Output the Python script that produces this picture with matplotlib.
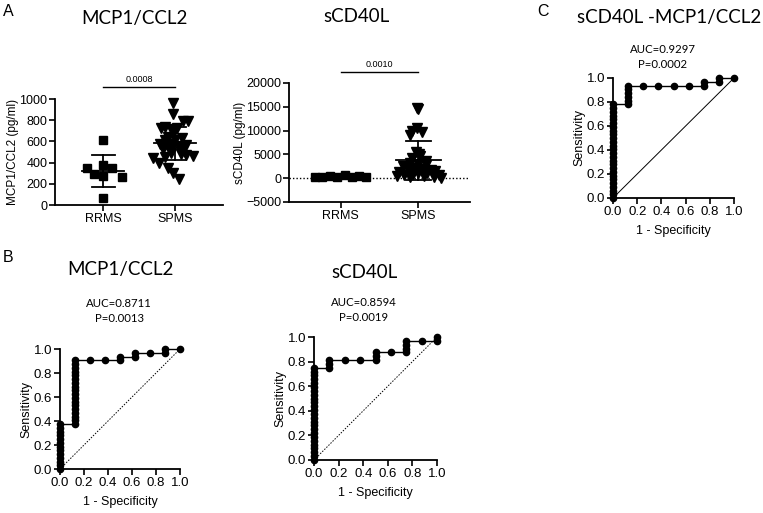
import numpy as np
import matplotlib.pyplot as plt

plt.rcParams['font.family'] = ['Liberation Sans', 'DejaVu Sans']
plt.rcParams['axes.linewidth'] = 1.3

# ---- data ----
groups = ['RRMS', 'SPMS']

# MCP1/CCL2 (pg/ml)
mcp_rrms = [610, 352, 377, 352, 289, 274, 267, 63]
mcp_spms = [960, 860, 790, 795, 730, 740, 715, 725, 685, 645, 635, 612, 612, 580, 572, 566,
            560, 566, 533, 530, 540, 533, 490, 478, 470, 462, 447, 456, 393, 352, 299, 245]

# sCD40L (pg/ml)
cd40_rrms = [300, 250, 400, 350, 600, 200, 450, 150]
cd40_spms = [14700, 14500, 10600, 9900, 9700, 9000, 5600, 5000, 4600, 4200, 3700, 3200, 3000, 2800, 2600, 2400,
             2200, 2000, 1800, 1600, 1500, 1300, 1100, 1000, 900, 700, 600, 500, 400, 300, 200, 100]

p_mcp = '0.0008'
p_cd40 = '0.0010'

# ROC points: false positives (of 8 RRMS) and true positives (of 32 SPMS)
n_neg, n_pos = 8, 32
roc_mcp_fp = [0, 0, 0, 0, 0, 0, 0, 0, 0, 0, 0, 0, 0,
              1, 1, 1, 1, 1, 1, 1, 1, 1, 1, 1, 1, 1, 1, 1, 1, 1, 1,
              2, 3, 4, 4, 5, 5, 6, 7, 7, 8]
roc_mcp_tp = [0, 1, 2, 3, 4, 5, 6, 7, 8, 9, 10, 11, 12,
              12, 13, 14, 15, 16, 17, 18, 19, 20, 21, 22, 23, 24, 25, 26, 27, 28, 29,
              29, 29, 29, 30, 30, 31, 31, 31, 32, 32]

roc_cd40_fp = [0, 0, 0, 0, 0, 0, 0, 0, 0, 0, 0, 0, 0, 0, 0, 0, 0, 0, 0, 0, 0, 0, 0, 0, 0,
               1, 1, 1, 2, 3, 4, 4, 4, 5, 6, 6, 6, 6, 7, 8, 8]
roc_cd40_tp = [0, 1, 2, 3, 4, 5, 6, 7, 8, 9, 10, 11, 12, 13, 14, 15, 16, 17, 18, 19, 20, 21, 22, 23, 24,
               24, 25, 26, 26, 26, 26, 27, 28, 28, 28, 29, 30, 31, 31, 31, 32]

roc_both_fp = [0, 0, 0, 0, 0, 0, 0, 0, 0, 0, 0, 0, 0, 0, 0, 0, 0, 0, 0, 0, 0, 0, 0, 0, 0, 0,
               1, 1, 1, 1, 1, 1, 2, 3, 4, 5, 6, 6, 7, 7, 8]
roc_both_tp = [0, 1, 2, 3, 4, 5, 6, 7, 8, 9, 10, 11, 12, 13, 14, 15, 16, 17, 18, 19, 20, 21, 22, 23, 24, 25,
               25, 26, 27, 28, 29, 30, 30, 30, 30, 30, 30, 31, 31, 32, 32]

auc_text = {'mcp': 'AUC=0.8711\nP=0.0013', 'cd40': 'AUC=0.8594\nP=0.0019', 'both': 'AUC=0.9297\nP=0.0002'}

# horizontal spread of the dots around each group (layout only)
jit_mcp_rrms = [0.0, -0.23, 0.0, 0.13, -0.12, 0.0, 0.27, 0.0]
jit_mcp_spms = [-0.02, -0.02, 0.11, 0.18, -0.19, -0.14, -0.06, 0.03, -0.01, -0.09, 0.10, -0.14, 0.0, -0.21, -0.11, -0.06,
                0.09, 0.16, -0.16, -0.05, 0.06, 0.11, -0.05, 0.09, 0.16, 0.25, -0.30, -0.14, -0.22, -0.10, -0.02, 0.06]
jit_cd40_rrms = [-0.33, -0.24, -0.14, -0.05, 0.05, 0.14, 0.24, 0.33]
jit_cd40_spms = [-0.02, 0.0, -0.02, -0.08, 0.05, -0.10, -0.03, 0.01, 0.03, -0.08, 0.10, -0.10, 0.0, 0.10, -0.20, -0.14,
                 -0.05, 0.05, 0.17, -0.12, 0.22, -0.25, 0.0, 0.12, -0.07, 0.27, -0.18, 0.08, -0.28, 0.20, -0.10, 0.30]

W, H = 763, 513
fig = plt.figure(figsize=(W / 100, H / 100), dpi=100)


def px_axes(l, t, r, b):
    return fig.add_axes([l / W, 1 - b / H, (r - l) / W, (b - t) / H])


def ftext(x, y, s, **kw):
    fig.text(x / W, 1 - y / H, s, ha='center', va='center', **kw)


def style(ax):
    for s in ['top', 'right']:
        ax.spines[s].set_visible(False)
    ax.tick_params(direction='out', length=4, width=1.2, labelsize=9, pad=1.5)


def dotplot(ax, data, jits, markers, ms):
    for i in range(2):
        vals = np.array(data[i])
        ax.plot(i + np.array(jits[i]), vals, linestyle='none', marker=markers[i], ms=ms[i],
                color='black', clip_on=False, zorder=3)
        m, sd = vals.mean(), vals.std(ddof=1)
        ax.plot([i - 0.29, i + 0.29], [m, m], color='black', lw=1.3, zorder=4)
        ax.plot([i - 0.16, i + 0.16], [m + sd, m + sd], color='black', lw=1.3, zorder=4)
        ax.plot([i - 0.16, i + 0.16], [m - sd, m - sd], color='black', lw=1.3, zorder=4)
        ax.plot([i, i], [m - sd, m + sd], color='black', lw=1.3, zorder=4)
    ax.set_xlim(-0.67, 1.67)
    ax.set_xticks([0, 1])
    ax.set_xticklabels(groups)


def roc(ax, fp, tp, diag_ls):
    fpr = np.array(fp) / n_neg
    tpr = np.array(tp) / n_pos
    ax.plot([0, 1], [0, 1], color='black', lw=0.7, linestyle=diag_ls, zorder=2)
    ax.plot(fpr, tpr, color='black', lw=1.0, marker='o', ms=4.5, clip_on=False, zorder=3)
    ax.set_xlim(0, 1)
    ax.set_ylim(0, 1)
    ax.set_xticks(np.arange(0, 1.01, 0.2))
    ax.set_yticks(np.arange(0, 1.01, 0.2))
    ax.xaxis.set_major_formatter(plt.FormatStrFormatter('%.1f'))
    ax.yaxis.set_major_formatter(plt.FormatStrFormatter('%.1f'))
    ax.set_xlabel('1 - Specificity', fontsize=9, labelpad=5)
    ax.set_ylabel('Sensitivity', fontsize=9, labelpad=1)
    style(ax)
    ax.tick_params(labelsize=9.5)


# ---- panel A: MCP1/CCL2 dot plot ----
ax1 = px_axes(55, 99, 223, 205)
dotplot(ax1, [mcp_rrms, mcp_spms], [jit_mcp_rrms, jit_mcp_spms], ['s', 'v'], [5.5, 6.5])
ax1.set_ylim(0, 1000)
ax1.set_yticks(range(0, 1001, 200))
ax1.set_ylabel('MCP1/CCL2 (pg/ml)', fontsize=8.5, labelpad=0)
style(ax1)
ax1.plot([0, 1], [1113, 1113], color='black', lw=1.0, clip_on=False)
ax1.text(0.5, 1140, p_mcp, ha='center', va='bottom', fontsize=6.5)

# ---- panel A: sCD40L dot plot ----
ax2 = px_axes(289, 83, 470, 202)
ax2.axhline(0, color='black', lw=1.0, linestyle=(0, (1, 1.5)), zorder=1)
dotplot(ax2, [cd40_rrms, cd40_spms], [jit_cd40_rrms, jit_cd40_spms], ['s', 'v'], [5.5, 6.5])
ax2.set_ylim(-5000, 20000)
ax2.set_yticks(range(-5000, 20001, 5000))
ax2.set_ylabel('sCD40L (pg/ml)', fontsize=8.5, labelpad=0)
style(ax2)
ax2.plot([0, 1], [22270, 22270], color='black', lw=1.0, clip_on=False)
ax2.text(0.5, 22900, p_cd40, ha='center', va='bottom', fontsize=6.5)

# ---- ROC curves ----
ax3 = px_axes(613, 78, 734, 198)
roc(ax3, roc_both_fp, roc_both_tp, '-')
ax4 = px_axes(60, 349, 180, 469)
roc(ax4, roc_mcp_fp, roc_mcp_tp, (0, (1.5, 1.5)))
ax5 = px_axes(314, 337, 437, 460)
roc(ax5, roc_cd40_fp, roc_cd40_tp, (0, (1.5, 1.5)))

# ---- titles and annotations ----
tfont = dict(family=['Lato', 'DejaVu Sans'], fontsize=13.5)
ftext(134, 19, 'MCP1/CCL2', **tfont)
ftext(357, 17, 'sCD40L', **tfont)
ftext(669, 18, 'sCD40L -MCP1/CCL2', **tfont)
ftext(120, 269, 'MCP1/CCL2', **tfont)
ftext(364, 273, 'sCD40L', **tfont)

afont = dict(family=['Lato', 'DejaVu Sans'], fontsize=8.2, linespacing=1.45)
ftext(663, 57, auc_text['both'], **afont)
ftext(119, 311, auc_text['mcp'], **afont)
ftext(364, 310, auc_text['cd40'], **afont)

ftext(8, 12, 'A', fontsize=11.5)
ftext(8, 257, 'B', fontsize=11.5)
ftext(543, 12, 'C', fontsize=11.5)

fig.savefig('out.png', dpi=100)
